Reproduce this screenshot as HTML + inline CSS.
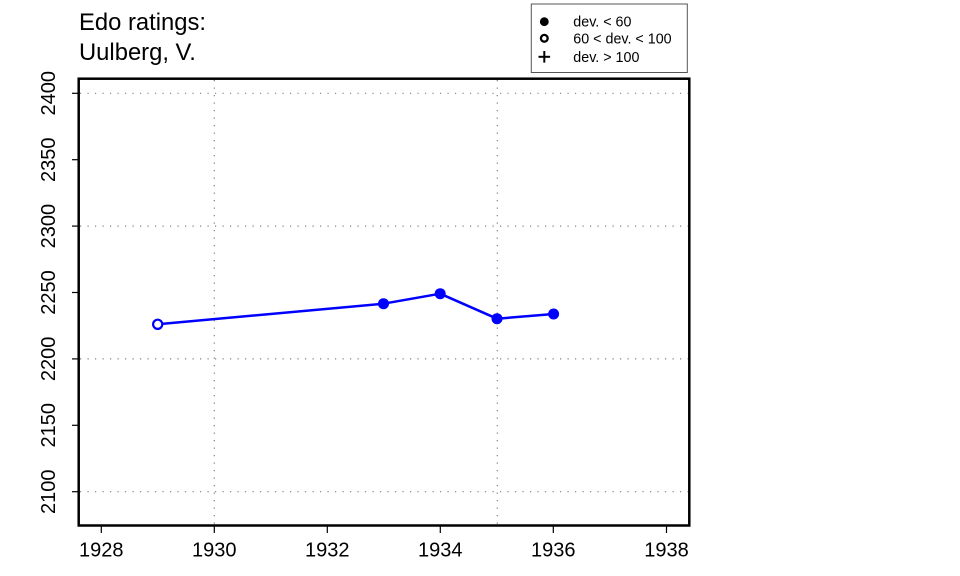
<!DOCTYPE html>
<html>
<head>
<meta charset="utf-8">
<style>
  html, body { margin: 0; padding: 0; background: #fff; }
  svg { display: block; }
  text { font-family: "Liberation Sans", Arial, sans-serif; fill: #000; }
</style>
</head>
<body>
<svg width="960" height="576" viewBox="0 0 960 576" xmlns="http://www.w3.org/2000/svg">
  <rect x="0" y="0" width="960" height="576" fill="#fff"/>

  <!-- title -->
  <text x="79" y="30" font-size="23.8">Edo ratings:</text>
  <text x="79" y="60" font-size="23.8">Uulberg, V.</text>

  <!-- grid lines -->
  <g stroke="#808080" stroke-width="1.2" stroke-dasharray="1.2 6.3" fill="none">
    <line x1="80" y1="93.3" x2="688" y2="93.3"/>
    <line x1="80" y1="226.1" x2="688" y2="226.1"/>
    <line x1="80" y1="358.9" x2="688" y2="358.9"/>
    <line x1="80" y1="491.7" x2="688" y2="491.7"/>
    <line x1="214.3" y1="80" x2="214.3" y2="524"/>
    <line x1="497.3" y1="80" x2="497.3" y2="524"/>
  </g>

  <!-- plot box -->
  <rect x="78.7" y="78.7" width="610.6" height="446.8" fill="none" stroke="#000" stroke-width="2.5"/>

  <!-- y ticks -->
  <g stroke="#000" stroke-width="1.2">
    <line x1="72" y1="93.3" x2="78.7" y2="93.3"/>
    <line x1="72" y1="159.7" x2="78.7" y2="159.7"/>
    <line x1="72" y1="226.1" x2="78.7" y2="226.1"/>
    <line x1="72" y1="292.5" x2="78.7" y2="292.5"/>
    <line x1="72" y1="358.9" x2="78.7" y2="358.9"/>
    <line x1="72" y1="425.3" x2="78.7" y2="425.3"/>
    <line x1="72" y1="491.7" x2="78.7" y2="491.7"/>
  </g>
  <g font-size="20" text-anchor="middle">
    <text transform="translate(55,93.3) rotate(-90)">2400</text>
    <text transform="translate(55,159.7) rotate(-90)">2350</text>
    <text transform="translate(55,226.1) rotate(-90)">2300</text>
    <text transform="translate(55,292.5) rotate(-90)">2250</text>
    <text transform="translate(55,358.9) rotate(-90)">2200</text>
    <text transform="translate(55,425.3) rotate(-90)">2150</text>
    <text transform="translate(55,491.7) rotate(-90)">2100</text>
  </g>

  <!-- x ticks -->
  <g stroke="#000" stroke-width="1.2">
    <line x1="101.3" y1="525.5" x2="101.3" y2="533"/>
    <line x1="214.3" y1="525.5" x2="214.3" y2="533"/>
    <line x1="327.3" y1="525.5" x2="327.3" y2="533"/>
    <line x1="440.3" y1="525.5" x2="440.3" y2="533"/>
    <line x1="553.3" y1="525.5" x2="553.3" y2="533"/>
    <line x1="666.5" y1="525.5" x2="666.5" y2="533"/>
  </g>
  <g font-size="20" text-anchor="middle">
    <text x="101.3" y="556.7">1928</text>
    <text x="214.3" y="556.7">1930</text>
    <text x="327.3" y="556.7">1932</text>
    <text x="440.3" y="556.7">1934</text>
    <text x="553.3" y="556.7">1936</text>
    <text x="666.5" y="556.7">1938</text>
  </g>

  <!-- series -->
  <polyline points="157.7,324.3 383.5,303.7 440.2,293.7 497,318.7 553.6,314" fill="none" stroke="#0000ff" stroke-width="2.5" stroke-linejoin="round"/>
  <circle cx="157.7" cy="324.3" r="4.6" fill="#fff" stroke="#0000ff" stroke-width="2.2"/>
  <g fill="#0000ff">
    <circle cx="383.5" cy="303.7" r="5.5"/>
    <circle cx="440.2" cy="293.7" r="5.5"/>
    <circle cx="497" cy="318.7" r="5.5"/>
    <circle cx="553.6" cy="314" r="5.5"/>
  </g>

  <!-- legend -->
  <rect x="531.3" y="4" width="156" height="68.5" fill="#fff" stroke="#555" stroke-width="1"/>
  <circle cx="544.3" cy="21.7" r="4.4" fill="#000"/>
  <circle cx="544.3" cy="38.3" r="3.4" fill="none" stroke="#000" stroke-width="2.3"/>
  <g stroke="#000" stroke-width="2">
    <line x1="538.5" y1="56.8" x2="550.1" y2="56.8"/>
    <line x1="544.3" y1="51" x2="544.3" y2="62.6"/>
  </g>
  <g font-size="14.3">
    <text x="573.3" y="26.7">dev. &lt; 60</text>
    <text x="573.3" y="43.5">60 &lt; dev. &lt; 100</text>
    <text x="573.3" y="61.8">dev. &gt; 100</text>
  </g>
</svg>
</body>
</html>
